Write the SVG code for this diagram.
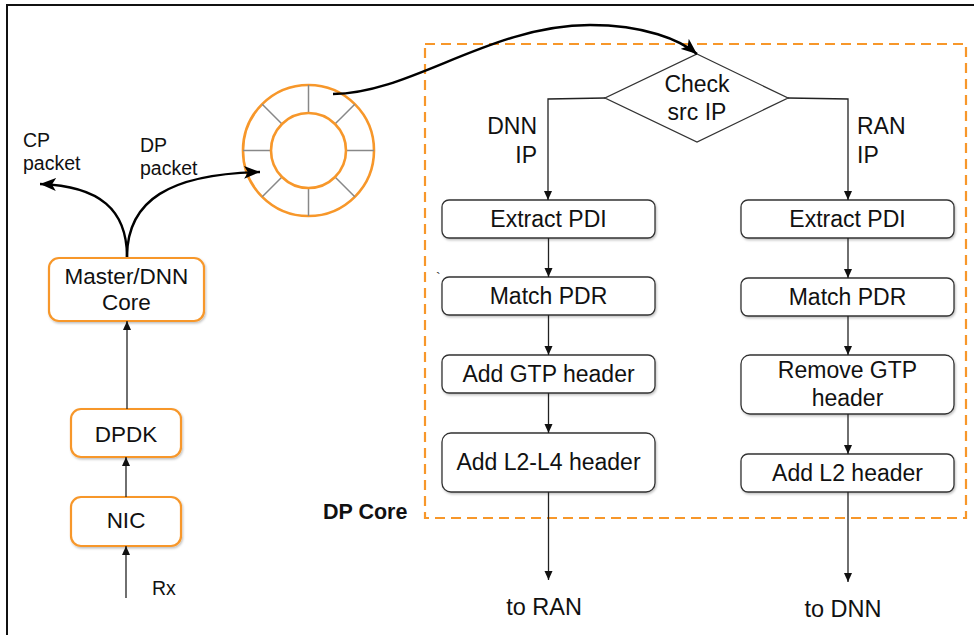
<svg xmlns="http://www.w3.org/2000/svg" width="974" height="635" viewBox="0 0 974 635">
  <style>
    .frame { stroke: #111; stroke-width: 2; fill: none; }
    .obox { fill: #fff; stroke: #f7972a; stroke-width: 2.2; }
    .gbox { fill: #fff; stroke: #333; stroke-width: 1.3; }
    .dash { fill: none; stroke: #f7972a; stroke-width: 2.2; stroke-dasharray: 10 6; }
    .conn { fill: none; stroke: #222; stroke-width: 1.3; }
    .curve { fill: none; stroke: #000; stroke-width: 2.4; }
    .spoke { stroke: #888; stroke-width: 1.5; }
    .ring { fill: #fff; stroke: #f7972a; stroke-width: 2.6; }
    .geo { font-family: "Liberation Sans", Arial, sans-serif; fill: #111; }
    .ar { font-family: "Liberation Sans", Arial, sans-serif; fill: #111; font-size: 23px; }
  </style>
  <defs>
    <marker id="tri" markerWidth="10" markerHeight="10" refX="9" refY="5" orient="auto" markerUnits="userSpaceOnUse">
      <path d="M0,1 L9,5 L0,9 Z" fill="#111"/>
    </marker>
    <marker id="stealth" markerWidth="18" markerHeight="14" refX="16" refY="7" orient="auto" markerUnits="userSpaceOnUse">
      <path d="M0,0.5 L16,7 L0,13.5 L4,7 Z" fill="#000"/>
    </marker>
    <filter id="sh" x="-10%" y="-20%" width="130%" height="150%">
      <feDropShadow dx="1" dy="1.5" stdDeviation="1.2" flood-color="#000" flood-opacity="0.25"/>
    </filter>
  </defs>

  <!-- outer frame -->
  <path class="frame" d="M7,635 L7,5 L974,5"/>

  <!-- DP core region -->
  <rect class="dash" x="425" y="44" width="541" height="474"/>
  <text class="geo" x="323" y="519" font-size="21.5" font-weight="bold">DP Core</text>

  <!-- packet ring buffer -->
  <g id="ring">
    <circle class="ring" cx="308.5" cy="150.5" r="65.5"/>
    <line class="spoke" x1="308.5" y1="85" x2="308.5" y2="113"/>
    <line class="spoke" x1="308.5" y1="188" x2="308.5" y2="216"/>
    <line class="spoke" x1="243" y1="150.5" x2="271" y2="150.5"/>
    <line class="spoke" x1="346" y1="150.5" x2="374" y2="150.5"/>
    <line class="spoke" x1="262.2" y1="104.2" x2="282" y2="124"/>
    <line class="spoke" x1="335" y1="177" x2="354.8" y2="196.8"/>
    <line class="spoke" x1="354.8" y1="104.2" x2="335" y2="124"/>
    <line class="spoke" x1="282" y1="177" x2="262.2" y2="196.8"/>
    <circle class="ring" cx="308.5" cy="150.5" r="37.5" style="fill:none"/>
  </g>

  <!-- left column -->
  <g id="master">
    <rect class="obox" x="49" y="258" width="155" height="63" rx="10" filter="url(#sh)"/>
    <text class="geo" x="126.5" y="284" font-size="22.5" text-anchor="middle">Master/DNN</text>
    <text class="geo" x="126.5" y="310" font-size="22.5" text-anchor="middle">Core</text>
  </g>
  <g id="dpdk">
    <rect class="obox" x="71" y="409" width="110" height="48" rx="10" filter="url(#sh)"/>
    <text class="geo" x="126" y="442" font-size="22.5" text-anchor="middle">DPDK</text>
  </g>
  <g id="nic">
    <rect class="obox" x="71" y="497" width="110" height="49" rx="10" filter="url(#sh)"/>
    <text class="geo" x="126" y="528" font-size="22.5" text-anchor="middle">NIC</text>
  </g>
  <text class="geo" x="152" y="595" font-size="19.5">Rx</text>
  <text class="geo" x="23" y="147" font-size="19.5">CP</text>
  <text class="geo" x="23" y="170" font-size="19.5">packet</text>
  <text class="geo" x="140" y="152" font-size="19.5">DP</text>
  <text class="geo" x="140" y="175" font-size="19.5">packet</text>

  <!-- decision -->
  <g id="check">
    <polygon points="697,54 788,98 697,142 605,98" fill="#fff" stroke="#333" stroke-width="1.3"/>
    <text class="ar" x="697" y="92" text-anchor="middle">Check</text>
    <text class="ar" x="697" y="120" text-anchor="middle">src IP</text>
  </g>
  <text class="ar" x="537" y="134" text-anchor="end">DNN</text>
  <text class="ar" x="537" y="163" text-anchor="end">IP</text>
  <text class="ar" x="857" y="134">RAN</text>
  <text class="ar" x="857" y="163">IP</text>

  <!-- downlink path (DNN side) -->
  <g id="dl-extract">
    <rect class="gbox" x="442" y="200" width="213" height="38" rx="7" filter="url(#sh)"/>
    <text class="ar" x="548.5" y="227" text-anchor="middle">Extract PDI</text>
  </g>
  <g id="dl-match">
    <rect class="gbox" x="442" y="277" width="213" height="38" rx="7" filter="url(#sh)"/>
    <text class="ar" x="548.5" y="304" text-anchor="middle">Match PDR</text>
  </g>
  <text x="436" y="283" font-family="Liberation Sans, sans-serif" font-size="14" fill="#333">`</text>
  <g id="dl-gtp">
    <rect class="gbox" x="442" y="355" width="213" height="38" rx="7" filter="url(#sh)"/>
    <text class="ar" x="548.5" y="382" text-anchor="middle">Add GTP header</text>
  </g>
  <g id="dl-l2l4">
    <rect class="gbox" x="442" y="433" width="213" height="59" rx="9" filter="url(#sh)"/>
    <text class="ar" x="548.5" y="470" text-anchor="middle">Add L2-L4 header</text>
  </g>

  <!-- uplink path (RAN side) -->
  <g id="ul-extract">
    <rect class="gbox" x="741" y="200" width="213" height="38" rx="7" filter="url(#sh)"/>
    <text class="ar" x="847.5" y="227" text-anchor="middle">Extract PDI</text>
  </g>
  <g id="ul-match">
    <rect class="gbox" x="741" y="278" width="213" height="38" rx="7" filter="url(#sh)"/>
    <text class="ar" x="847.5" y="305" text-anchor="middle">Match PDR</text>
  </g>
  <g id="ul-gtp">
    <rect class="gbox" x="741" y="355" width="213" height="59" rx="9" filter="url(#sh)"/>
    <text class="ar" x="847.5" y="378" text-anchor="middle">Remove GTP</text>
    <text class="ar" x="847.5" y="406" text-anchor="middle">header</text>
  </g>
  <g id="ul-l2">
    <rect class="gbox" x="741" y="454" width="213" height="38" rx="7" filter="url(#sh)"/>
    <text class="ar" x="847.5" y="481" text-anchor="middle">Add L2 header</text>
  </g>

  <text class="geo" x="544" y="615" font-size="23.5" text-anchor="middle">to RAN</text>
  <text class="geo" x="843" y="617" font-size="23.5" text-anchor="middle">to DNN</text>

  <!-- connectors -->
  <g id="connectors">
    <path class="conn" d="M126,598 L126,546" marker-end="url(#tri)"/>
    <path class="conn" d="M126,497 L126,457" marker-end="url(#tri)"/>
    <path class="conn" d="M127,409 L127,321" marker-end="url(#tri)"/>
    <path class="curve" d="M127,257 C127,210 100,186 40,184" marker-end="url(#stealth)"/>
    <path class="curve" d="M127,257 C127,200 170,174 260,172" marker-end="url(#stealth)"/>
    <path class="curve" d="M333,94 C410,94 490,25 590,25 C645,25 680,40 697,54" marker-end="url(#stealth)"/>

    <path class="conn" d="M605,98 L548,99 L548,200" marker-end="url(#tri)"/>
    <path class="conn" d="M548.5,238 L548.5,277" marker-end="url(#tri)"/>
    <path class="conn" d="M548.5,315 L548.5,355" marker-end="url(#tri)"/>
    <path class="conn" d="M548.5,393 L548.5,433" marker-end="url(#tri)"/>
    <path class="conn" d="M548.5,492 L548.5,580" marker-end="url(#tri)"/>

    <path class="conn" d="M788,98 L848,99 L848,200" marker-end="url(#tri)"/>
    <path class="conn" d="M848,238 L848,278" marker-end="url(#tri)"/>
    <path class="conn" d="M848,316 L848,355" marker-end="url(#tri)"/>
    <path class="conn" d="M848,414 L848,454" marker-end="url(#tri)"/>
    <path class="conn" d="M848,492 L848,582" marker-end="url(#tri)"/>
  </g>
</svg>
